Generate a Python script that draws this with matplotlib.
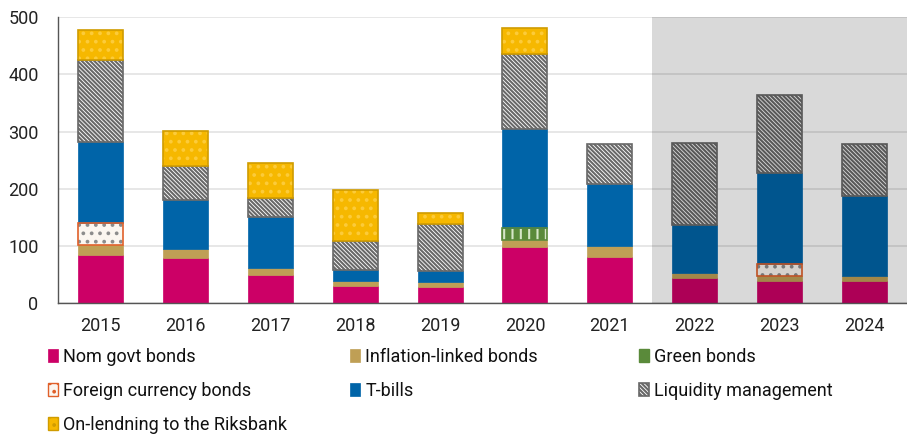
import matplotlib
matplotlib.use("Agg")
import matplotlib.pyplot as plt
from matplotlib.patches import Patch
import numpy as np

plt.rcParams['font.family'] = ['Roboto', 'DejaVu Sans']
plt.rcParams['hatch.linewidth'] = 1.5

years = ['2015', '2016', '2017', '2018', '2019', '2020', '2021', '2022', '2023', '2024']
nom_govt = [84, 80, 49, 30, 28, 99, 81, 44, 39, 39]
inflation_linked = [18, 15, 12, 9, 9, 11, 20, 9, 8, 8]
green = [0, 0, 0, 0, 0, 22, 0, 0, 0, 0]
foreign_ccy = [38, 0, 0, 0, 0, 0, 0, 0, 22, 0]
t_bills = [142, 85, 89, 20, 20, 173, 108, 83, 158, 140]
liquidity = [143, 60, 34, 50, 81, 131, 70, 144, 136, 92]
on_lending = [53, 61, 61, 89, 20, 44, 0, 0, 0, 0]

series = [
    ("Nom govt bonds", nom_govt, dict(facecolor='#CC0066', edgecolor='#CC0066', linewidth=0.5)),
    ("Inflation-linked bonds", inflation_linked, dict(facecolor='#BF9F55', edgecolor='#BF9F55', linewidth=0.5)),
    ("Green bonds", green, dict(facecolor='#5A8A3A', edgecolor='#D6E6C8', hatch='||', linewidth=0)),
    ("Foreign currency bonds", foreign_ccy, dict(facecolor='#FBF6F0', edgecolor='#8C8C8C', hatch='..', linewidth=0)),
    ("T-bills", t_bills, dict(facecolor='#0064A8', edgecolor='#0064A8', linewidth=0.5)),
    ("Liquidity management", liquidity, dict(facecolor='white', edgecolor='#686868', hatch='\\' * 8, linewidth=1.2)),
    ("On-lendning to the Riksbank", on_lending, dict(facecolor='#F6B800', edgecolor='#FCCB3A', hatch='..', linewidth=0)),
]
outline = {
    "Green bonds": '#5A8A3A',
    "Foreign currency bonds": '#E0602A',
    "On-lendning to the Riksbank": '#D09C00',
}

fig = plt.figure(figsize=(9.07, 4.34), dpi=100)
ax = fig.add_axes([0.064, 0.301, 0.936, 0.66])

x = np.arange(len(years))
width = 0.53
bottom = np.zeros(len(years))
handles = {}
for name, vals, style in series:
    v = np.array(vals, dtype=float)
    m = v > 0
    ax.bar(x[m], v[m], width, bottom=bottom[m], zorder=2, **style)
    if name in outline:
        ax.bar(x[m], v[m], width, bottom=bottom[m], fill=False, edgecolor=outline[name],
               linewidth=1.2, zorder=2.1)
    hs = dict(style)
    if name in outline:
        hs['linewidth'] = 1.0
    h = Patch(label=name, **hs)
    if name in outline:
        h.set_edgecolor(outline[name])
    handles[name] = h
    bottom += v

# forecast years shaded
ax.axvspan(6.5, 9.5, facecolor='black', alpha=0.15, linewidth=0, zorder=3)

ax.set_xlim(-0.5, 9.5)
ax.set_ylim(0, 500)
ax.set_yticks([0, 100, 200, 300, 400, 500])
ax.set_xticks(x)
ax.set_xticklabels(years)
ax.yaxis.grid(True, color='#E3E3E3', linewidth=1.2, zorder=0)
ax.set_axisbelow(True)
for s in ['top', 'right']:
    ax.spines[s].set_visible(False)
for s in ['left', 'bottom']:
    ax.spines[s].set_color('#555555')
    ax.spines[s].set_linewidth(1.0)
ax.tick_params(axis='both', length=0, labelsize=13, colors='#222222')
ax.tick_params(axis='y', pad=14)
ax.tick_params(axis='x', pad=10)

# legend laid out in three fixed columns, filled row by row
columns = [
    (48, ["Nom govt bonds", "Foreign currency bonds", "On-lendning to the Riksbank"]),
    (350, ["Inflation-linked bonds", "T-bills"]),
    (639, ["Green bonds", "Liquidity management"]),
]
W, H = 907.0, 434.0
for xpix, names in columns:
    leg = fig.legend(handles=[handles[n] for n in names], loc='upper left',
                     bbox_to_anchor=(xpix / W, (H - 348) / H),
                     ncol=1, frameon=False, fontsize=13, handlelength=0.55, handleheight=0.75,
                     handletextpad=0.3, labelspacing=0.88, borderaxespad=0, borderpad=0)
    for t in leg.get_texts():
        t.set_color('#111111')

fig.savefig('out.png', dpi=100)
